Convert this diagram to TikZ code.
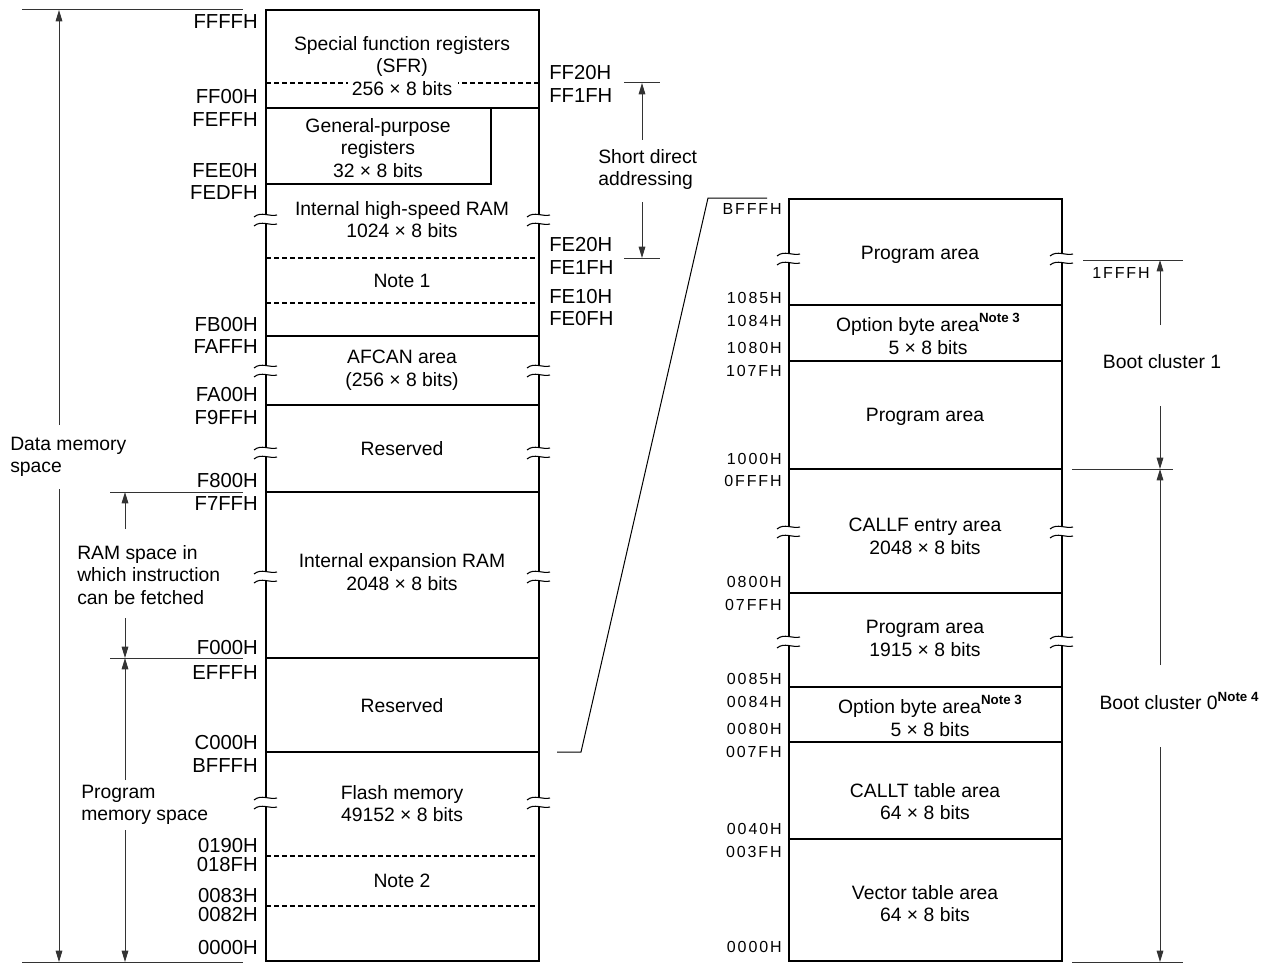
\documentclass[tikz,border=0pt]{standalone}
\usepackage{fontspec}
\setmainfont{Liberation Sans}
\newfontfamily\hexrfont[LetterSpace=12]{Liberation Sans}
\usetikzlibrary{arrows.meta}
\newcommand\brkmark[2]{%
  \fill[white] (#1-12,#2-2) .. controls (#1-5,#2-8) and (#1+4,#2-2) .. (#1+11,#2-4)
     -- (#1+11,#2+5) .. controls (#1+4,#2+7) and (#1-5,#2+1) .. (#1-12,#2+7) -- cycle;
  \draw[line width=0.8pt] (#1-12,#2-2) .. controls (#1-5,#2-8) and (#1+4,#2-2) .. (#1+11,#2-4);
  \draw[line width=0.8pt] (#1-12,#2+7) .. controls (#1-5,#2+1) and (#1+4,#2+7) .. (#1+11,#2+5);
}
\newcommand\notesup[1]{\raisebox{0.85ex}{\fontsize{10}{12}\selectfont\bfseries #1}}
\tikzset{
  mbox/.style={line width=1.5pt},
  sepl/.style={line width=0.8pt},
  dsepl/.style={line width=0.8pt, dash pattern=on 3.5pt off 2.5pt},
  ann/.style={line width=0.75pt, black!80},
  arr/.style={ann, -{Triangle[length=8.5pt,width=5pt]}},
  lbl/.style={font=\fontsize{14.5}{16.9}\selectfont, inner sep=0pt, align=center},
  lbll/.style={font=\fontsize{14.5}{16.9}\selectfont, inner sep=0pt, align=left, anchor=west},
  hexl/.style={font=\fontsize{15.2}{17}\selectfont, inner sep=0pt, anchor=east},
  hexm/.style={font=\fontsize{15.2}{17}\selectfont, inner sep=0pt, anchor=west},
  hexr/.style={font=\hexrfont\fontsize{12}{14}\selectfont, inner sep=0pt, anchor=east},
}
\begin{document}
\begin{tikzpicture}[x=0.75pt,y=-0.75pt]
\useasboundingbox (0,0) rectangle (1277,963);

% ---------- left memory map ----------
\draw[dsepl] (266,83) -- (348,83);
\draw[dsepl] (539,83) -- (458,83);
\draw[sepl] (266,108) -- (539,108);
\draw[sepl] (266,184) -- (491,184) -- (491,108);
\draw[dsepl] (266,258) -- (539,258);
\draw[dsepl] (266,303) -- (539,303);
\draw[sepl] (266,336) -- (539,336);
\draw[sepl] (266,405) -- (539,405);
\draw[sepl] (266,492) -- (539,492);
\draw[sepl] (266,658) -- (539,658);
\draw[sepl] (266,752) -- (539,752);
\draw[dsepl] (266,856) -- (539,856);
\draw[dsepl] (266,906) -- (539,906);
\draw[mbox] (266,10) rectangle (539,961);
\foreach \yy in {219,370,452,576,802} {\brkmark{266}{\yy}\brkmark{539}{\yy}}

\node[lbl] (sfr) at (402,66) {Special function registers\\(SFR)\\256 × 8 bits};
\node[lbl] (gpr) at (378,148) {General-purpose\\registers\\32 × 8 bits};
\node[lbl] (hsram) at (402,219.5) {Internal high-speed RAM\\1024 × 8 bits};
\node[lbl] (note1) at (402,281) {Note 1};
\node[lbl] (afcan) at (402,370.5) {AFCAN area\\(256 × 8 bits)};
\node[lbl] (res1) at (402,449) {Reserved};
\node[lbl] (exram) at (402,572) {Internal expansion RAM\\2048 × 8 bits};
\node[lbl] (res2) at (402,706) {Reserved};
\node[lbl] (flash) at (402,803.5) {Flash memory\\49152 × 8 bits};
\node[lbl] (note2) at (402,881) {Note 2};

\node[hexl] (a1) at (258,22) {FFFFH};
\node[hexl] (a2) at (258,97) {FF00H};
\node[hexl] (a3) at (258,120) {FEFFH};
\node[hexl] (a4) at (258,171) {FEE0H};
\node[hexl] (a5) at (258,193) {FEDFH};
\node[hexl] (a6) at (258,325) {FB00H};
\node[hexl] (a7) at (258,347) {FAFFH};
\node[hexl] (a8) at (258,395) {FA00H};
\node[hexl] (a9) at (258,418) {F9FFH};
\node[hexl] (a10) at (258,481) {F800H};
\node[hexl] (a11) at (258,504) {F7FFH};
\node[hexl] (a12) at (258,648) {F000H};
\node[hexl] (a13) at (258,673) {EFFFH};
\node[hexl] (a14) at (258,743) {C000H};
\node[hexl] (a15) at (258,766) {BFFFH};
\node[hexl] (a16) at (258,846) {0190H};
\node[hexl] (a17) at (258,865) {018FH};
\node[hexl] (a18) at (258,896) {0083H};
\node[hexl] (a19) at (258,915) {0082H};
\node[hexl] (a20) at (258,948) {0000H};

\node[hexm] (b1) at (549,73) {FF20H};
\node[hexm] (b2) at (549,96) {FF1FH};
\node[hexm] (b3) at (549,245) {FE20H};
\node[hexm] (b4) at (549,268) {FE1FH};
\node[hexm] (b5) at (549,297) {FE10H};
\node[hexm] (b6) at (549,319) {FE0FH};

% short direct addressing
\coordinate (sdt) at (642,83);
\coordinate (sdb) at (642,258);
\draw[ann] (624,83) -- (660,83);
\draw[ann] (624,258) -- (660,258);
\node[lbll] (sda) at (598,169.5) {Short direct\\addressing};
\draw[arr] (642,140) -- (sdt);
\draw[arr] (642,202) -- (sdb);

% data memory space
\coordinate (dtop) at (59,10);
\coordinate (dbot) at (59,962);
\draw[ann] (22,10) -- (243,10);
\draw[ann] (22,962) -- (243,962);
\node[lbll] (dms) at (10,457) {Data memory\\space};
\draw[arr] (59,425) -- (dtop);
\draw[arr] (59,489) -- (dbot);

% RAM space / program memory space
\coordinate (rtop) at (125,492);
\coordinate (rbot) at (125,658);
\coordinate (pbot) at (125,962);
\draw[ann] (110,492) -- (243,492);
\draw[ann] (110,658) -- (243,658);
\node[lbll] (ram) at (77,575) {RAM space in\\which instruction\\can be fetched};
\draw[arr] (125,529) -- (rtop);
\draw[arr] (125,618) -- (rbot);
\node[lbll] (pms) at (81,805) {Program\\memory space};
\draw[arr] (125,780) -- (rbot);
\draw[arr] (125,830) -- (pbot);

% connector to expanded view
\draw[ann,black] (557,752) -- (581,752) -- (708,198) -- (767,198);

% ---------- right memory map (flash detail) ----------
\foreach \yy in {305,361,469,593,687,742,839} {\draw[sepl] (789,\yy) -- (1062,\yy);}
\draw[mbox] (789,199) rectangle (1062,961);
\foreach \yy in {258,531,641} {\brkmark{789}{\yy}\brkmark{1062}{\yy}}

\node[lbl] (p1) at (920,255) {Program area};
\node[lbl] (o1) at (928,334) {Option byte area\notesup{Note 3}\\5 × 8 bits};
\node[lbl] (p2) at (925,417) {Program area};
\node[lbl] (cf) at (925,536.5) {CALLF entry area\\2048 × 8 bits};
\node[lbl] (p3) at (925,638.5) {Program area\\1915 × 8 bits};
\node[lbl] (o2) at (930,716) {Option byte area\notesup{Note 3}\\5 × 8 bits};
\node[lbl] (ct) at (925,801.5) {CALLT table area\\64 × 8 bits};
\node[lbl] (vt) at (925,903.5) {Vector table area\\64 × 8 bits};

\node[hexr] (c1) at (782,209) {BFFFH};
\node[hexr] (c2) at (782,298) {1085H};
\node[hexr] (c3) at (782,321) {1084H};
\node[hexr] (c4) at (782,348) {1080H};
\node[hexr] (c5) at (782,371) {107FH};
\node[hexr] (c6) at (782,459) {1000H};
\node[hexr] (c7) at (782,481) {0FFFH};
\node[hexr] (c8) at (782,582) {0800H};
\node[hexr] (c9) at (782,605) {07FFH};
\node[hexr] (c10) at (782,679) {0085H};
\node[hexr] (c11) at (782,702) {0084H};
\node[hexr] (c12) at (782,729) {0080H};
\node[hexr] (c13) at (782,752) {007FH};
\node[hexr] (c14) at (782,829) {0040H};
\node[hexr] (c15) at (782,852) {003FH};
\node[hexr] (c16) at (782,947) {0000H};

% boot clusters
\coordinate (b1t) at (1160,260);
\coordinate (b1b) at (1160,469);
\coordinate (b0b) at (1160,962);
\draw[ann] (1083,260) -- (1183,260);
\draw[ann] (1072,469) -- (1173,469);
\draw[ann] (1072,962) -- (1183,962);
\node[hexr] (d1) at (1150,273) {1FFFH};
\node[lbl] (bc1) at (1162,362) {Boot cluster 1};
\node[lbl] (bc0) at (1179,701) {Boot cluster 0\notesup{Note 4}};
\draw[arr] (1160,325) -- (b1t);
\draw[arr] (1160,406) -- (b1b);
\draw[arr] (1160,665) -- (b1b);
\draw[arr] (1160,747) -- (b0b);
\end{tikzpicture}
\end{document}
